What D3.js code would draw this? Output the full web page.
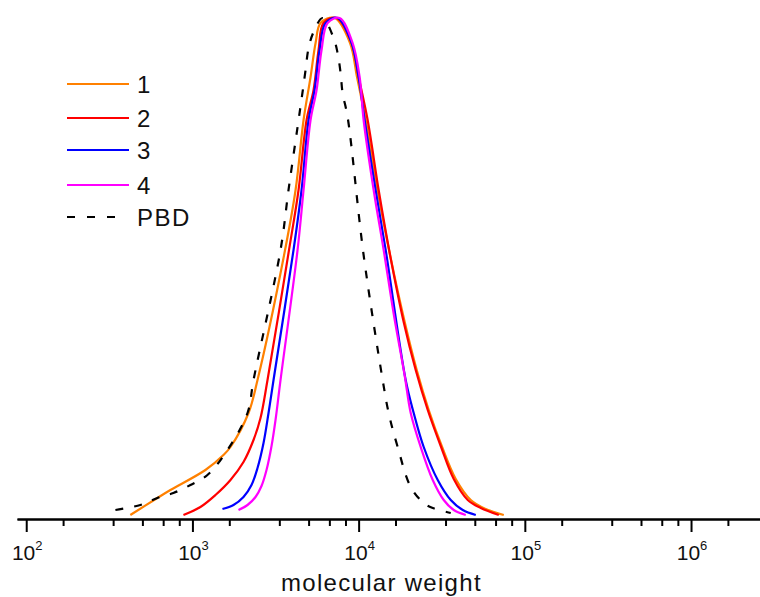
<!DOCTYPE html>
<html>
<head>
<meta charset="utf-8">
<script src="https://cdn.jsdelivr.net/npm/d3@7"></script>
<style>
  body { margin: 0; background: #fff; }
  svg { display: block; font-family: Arial, "Liberation Sans", sans-serif; }
</style>
</head>
<body>
<script>
// molecular weight (x) and normalised signal (y)
const mw1 = [423, 615, 737, 1197, 1537, 1694, 2175, 2464, 3532, 4174, 4663, 5138, 5508, 5902, 7169,
             8880, 9780, 11020, 13000, 15590, 18930, 22360, 26410, 31620, 38400, 47290, 58210, 74720];
const h1  = [0.006, 0.04, 0.056, 0.096, 0.126, 0.142, 0.21, 0.276, 0.52, 0.656, 0.796, 0.882, 0.95, 0.99, 1.0,
             0.95, 0.882, 0.796, 0.656, 0.52, 0.392, 0.296, 0.216, 0.144, 0.078, 0.036, 0.018, 0.006];

const mw2 = [883, 1117, 1376, 1694, 2029, 2331, 2568, 2830, 3786, 4350, 4862, 5357, 5741, 6154, 7370,
             9075, 10000, 11330, 13197, 15375, 18666, 22050, 26050, 31190, 37350, 45350, 54310, 69720];
const h2  = [0.006, 0.022, 0.046, 0.076, 0.112, 0.156, 0.2, 0.276, 0.53, 0.656, 0.796, 0.856, 0.936, 0.99, 1.0,
             0.95, 0.882, 0.796, 0.656, 0.53, 0.392, 0.296, 0.216, 0.144, 0.078, 0.036, 0.02, 0.006];

const mw3 = [1516, 1766, 2029, 2267, 2464, 2678, 2870, 3076, 4058, 4535, 4999, 5432, 5821, 6326, 7472,
             9075, 10000, 10864, 12659, 14546, 19189, 21447, 24640, 29918, 35830, 42320, 50680];
const h3  = [0.018, 0.026, 0.042, 0.066, 0.1, 0.15, 0.21, 0.276, 0.536, 0.656, 0.796, 0.856, 0.936, 0.99, 1.0,
             0.95, 0.882, 0.796, 0.656, 0.536, 0.276, 0.21, 0.142, 0.076, 0.036, 0.016, 0.006];

const mw4 = [1893, 2145, 2396, 2604, 2791, 2992, 3162, 3389, 4291, 4663, 5138, 5585, 5984, 6505, 7681,
             9204, 10140, 10715, 12314, 14146, 16300, 18900, 20575, 23632, 27918, 32510, 37350, 44120];
const h4  = [0.016, 0.026, 0.042, 0.064, 0.096, 0.144, 0.196, 0.276, 0.536, 0.656, 0.796, 0.856, 0.936, 0.99, 1.0,
             0.95, 0.882, 0.796, 0.656, 0.536, 0.406, 0.286, 0.21, 0.142, 0.076, 0.036, 0.016, 0.006];

const mwPBD = [344, 486, 615, 768, 973, 1231, 1625, 2145, 2331, 3389, 3786, 4291, 4599, 4795, 4999, 5357, 6068,
               7069, 7472, 7789, 8008, 8584, 10715, 13951, 15163, 17175, 20575, 24640, 27918, 35830];
const hPBD  = [0.016, 0.026, 0.04, 0.05, 0.066, 0.086, 0.136, 0.21, 0.276, 0.536, 0.656, 0.782, 0.852, 0.896, 0.94, 0.972, 1.0,
               0.96, 0.93, 0.89, 0.85, 0.802, 0.526, 0.276, 0.21, 0.142, 0.062, 0.03, 0.02, 0.01];

const seriesNames = ["1", "2", "3", "4", "PBD"];
const seriesColors = ["#ff8000", "#ff0000", "#0000ff", "#ff00ff", "#000000"];
const majorTicks = [1e2, 1e3, 1e4, 1e5, 1e6];
const tickExponents = ["2", "3", "4", "5", "6"];
const minorSteps = [1, 2, 3, 4, 5];   // k * 10^(n+1) / 6 inside each decade

const width = 760, height = 597;

const x = d3.scaleLog().domain([88, 2.6e6]).range([17, 760]);
const y = d3.scaleLinear().domain([0, 1]).range([518, 18]);

const svg = d3.select("body").append("svg")
  .attr("width", width)
  .attr("height", height);

// curves
const allMw = [mw1, mw2, mw3, mw4, mwPBD];
const allH = [h1, h2, h3, h4, hPBD];
const line = d3.line()
  .x(d => x(d[0]))
  .y(d => y(d[1]))
  .curve(d3.curveCatmullRom.alpha(0.5));

allMw.forEach((mw, i) => {
  const pts = mw.map((m, j) => [m, allH[i][j]]);
  svg.append("path")
    .attr("d", line(pts))
    .attr("fill", "none")
    .attr("stroke", seriesColors[i])
    .attr("stroke-width", 2.2)
    .attr("stroke-dasharray", seriesNames[i] === "PBD" ? "8,11" : null);
});

// x axis
let minorTicks = [];
majorTicks.concat([1e7]).forEach(t => {
  minorSteps.forEach(k => {
    const v = k * t / 6;
    if (v > x.domain()[0] && v < x.domain()[1]) minorTicks.push(v);
  });
});

svg.append("g")
  .attr("transform", "translate(0,519)")
  .call(d3.axisBottom(x).tickValues(minorTicks).tickSize(7).tickSizeOuter(0).tickFormat(""))
  .call(g => g.selectAll("line").attr("stroke-width", 2))
  .call(g => g.select(".domain").attr("stroke-width", 2));

svg.append("g")
  .attr("transform", "translate(0,519)")
  .call(d3.axisBottom(x).tickValues(majorTicks).tickSize(13).tickSizeOuter(0).tickFormat(""))
  .call(g => g.selectAll("line").attr("stroke-width", 2))
  .call(g => g.select(".domain").attr("stroke-width", 2));

majorTicks.forEach((t, i) => {
  const lab = svg.append("text")
    .attr("x", x(t) + 1)
    .attr("y", 560)
    .attr("text-anchor", "middle")
    .style("font-size", "21px")
    .attr("fill", "#111");
  lab.append("tspan").text("10");
  lab.append("tspan").attr("dy", -10).style("font-size", "13px").text(tickExponents[i]);
});

svg.append("text")
  .attr("x", 281)
  .attr("y", 591)
  .style("font-size", "24px")
  .style("letter-spacing", "1.3px")
  .attr("fill", "#111")
  .text("molecular weight");

// legend
const legend = svg.append("g").attr("transform", "translate(67,84)");
const legendY = [0, 34, 66, 101, 133];
seriesNames.forEach((name, i) => {
  const g = legend.append("g").attr("transform", `translate(0,${legendY[i]})`);
  g.append("line")
    .attr("x1", 0)
    .attr("x2", name === "PBD" ? 55 : 62)
    .attr("stroke", seriesColors[i])
    .attr("stroke-width", 2.2)
    .attr("stroke-dasharray", name === "PBD" ? "8,12" : null);
  g.append("text")
    .attr("x", 70)
    .attr("y", 9)
    .style("font-size", "24px")
    .style("letter-spacing", "1.5px")
    .attr("fill", "#111")
    .text(name);
});
</script>
</body>
</html>
